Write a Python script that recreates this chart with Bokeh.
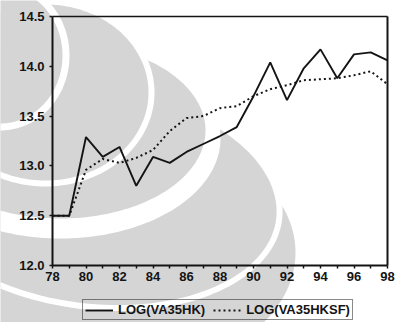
import numpy as np
from bokeh.plotting import figure
from bokeh.models import (Range1d, FixedTicker, PrintfTickFormatter, Legend,
                          LegendItem, LinearAxis, PolyAnnotation)
from bokeh.embed import file_html
from bokeh.resources import INLINE

# Annual series, 1978-1998 (two-digit years on the axis)
years = list(range(78, 99))
va35hk = [12.50, 12.50, 13.29, 13.09, 13.19, 12.80, 13.09, 13.03, 13.14, 13.22,
          13.30, 13.39, 13.70, 14.04, 13.66, 13.98, 14.17, 13.88, 14.12, 14.14, 14.06]
va35hksf = [12.50, 12.50, 12.96, 13.07, 13.03, 13.08, 13.16, 13.35, 13.48, 13.50,
            13.58, 13.60, 13.70, 13.77, 13.81, 13.86, 13.87, 13.88, 13.91, 13.95, 13.82]
series_labels = ["LOG(VA35HK)", "LOG(VA35HKSF)"]
y_ticks = [12.0, 12.5, 13.0, 13.5, 14.0, 14.5]
x_ticks = list(range(78, 99, 2))
x_minor = list(range(79, 98, 2))
X0, X1 = 78, 98
Y0, Y1 = 12.0, 14.5

FONT = "Liberation Sans"
INK = "#141414"
SHADE = "#d5d5d5"
W, H = 396, 322

# The plotting frame fills the page; the chart box sits inside it at these margins.
LEFT, RIGHT, TOP, BOTTOM = 52, 9, 16, 57
px_x = (W - LEFT - RIGHT) / (X1 - X0)
px_y = (H - TOP - BOTTOM) / (Y1 - Y0)
x_range = Range1d(X0 - LEFT / px_x, X1 + RIGHT / px_x)
y_range = Range1d(Y0 - BOTTOM / px_y, Y1 + TOP / px_y)

p = figure(width=W, height=H, x_range=x_range, y_range=y_range,
           output_backend="svg", toolbar_location=None,
           min_border_left=0, min_border_right=0, min_border_top=0, min_border_bottom=0)
p.xgrid.visible = False
p.ygrid.visible = False
p.outline_line_color = None
p.background_fill_color = "white"
p.border_fill_color = "white"


def blob(cx, cy, a, b, n=2.0, tilt=0.0, k=180):
    """Closed (super)ellipse outline in page pixels."""
    t = np.linspace(0, 2 * np.pi, k, endpoint=False)
    c, s = np.cos(t), np.sin(t)
    x = a * np.sign(c) * np.abs(c) ** (2.0 / n)
    y = b * np.sign(s) * np.abs(s) ** (2.0 / n)
    th = np.deg2rad(tilt)
    X = cx + x * np.cos(th) - y * np.sin(th)
    Y = cy + x * np.sin(th) + y * np.cos(th)
    return X.tolist(), Y.tolist()


# Background emblem: alternating grey / white layers painted largest first
layers = [
    ((110, 252, 185, 125, 2.0, 0), SHADE),
    ((92, 196, 191, 113, 2.0, 7), "white"),
    ((92, 196, 185, 107, 2.0, 7), SHADE),
    ((60, 138, 160, 100, 2.0, 0), "white"),
    ((60, 130, 145, 88, 2.0, 0), SHADE),
    ((45, 92, 109, 94, 2.0, 0), "white"),
    ((45, 92, 103, 88, 2.0, 0), SHADE),
    ((0, 55, 69, 75, 2.0, 0), "white"),
    ((0, 55, 62, 68, 2.0, 0), SHADE),
]
for params, col in layers:
    xs, ys = blob(*params)
    p.add_layout(PolyAnnotation(xs=xs, ys=ys, xs_units="canvas", ys_units="canvas",
                                fill_color=col, fill_alpha=1.0, line_color=None,
                                level="underlay"))

r1 = p.line(years, va35hk, line_color=INK, line_width=1.9)
r2 = p.line(years, va35hksf, line_color=INK, line_width=2.0, line_dash="2 3")

# Axes pinned to the chart box edges
xax = p.xaxis[0]
yax = p.yaxis[0]
xax.fixed_location = Y0
xax.bounds = (X0, X1)
yax.fixed_location = X0
yax.bounds = (Y0, Y1)
for ax in (xax, yax):
    ax.axis_line_color = INK
    ax.axis_line_width = 2
    ax.major_tick_line_color = INK
    ax.minor_tick_line_color = INK
    ax.major_tick_line_width = 1.5
    ax.minor_tick_line_width = 1.5
    ax.major_tick_in = 0
    ax.minor_tick_in = 0
    ax.major_tick_out = 3
    ax.major_label_text_font = FONT
    ax.major_label_text_font_style = "bold"
    ax.major_label_text_color = INK
    ax.major_label_text_font_size = "13px"

xax.ticker = FixedTicker(ticks=x_ticks, minor_ticks=x_minor)
xax.minor_tick_out = 3
xax.formatter = PrintfTickFormatter(format="%d")
xax.major_label_standoff = 3

yax.ticker = FixedTicker(ticks=y_ticks, minor_ticks=[])
yax.minor_tick_out = 0
yax.formatter = PrintfTickFormatter(format="%.1f")
yax.major_label_standoff = 5

# Top and right edges of the chart box
top_edge = LinearAxis(fixed_location=Y1, bounds=(X0, X1),
                      ticker=FixedTicker(ticks=[], minor_ticks=[]),
                      axis_line_color=INK, axis_line_width=1.6,
                      major_tick_line_color=None, minor_tick_line_color=None)
right_edge = LinearAxis(fixed_location=X1, bounds=(Y0, Y1),
                        ticker=FixedTicker(ticks=[], minor_ticks=[]),
                        axis_line_color=INK, axis_line_width=2,
                        major_tick_line_color=None, minor_tick_line_color=None)
p.add_layout(top_edge, "above")
p.add_layout(right_edge, "right")

legend = Legend(items=[LegendItem(label=series_labels[0], renderers=[r1]),
                       LegendItem(label=series_labels[1], renderers=[r2])],
                orientation="horizontal", location=(82, 2))
legend.border_line_color = INK
legend.border_line_width = 1.5
legend.background_fill_alpha = 0
legend.label_text_font = FONT
legend.label_text_font_style = "bold"
legend.label_text_font_size = "13px"
legend.label_text_color = INK
legend.glyph_width = 28
legend.glyph_height = 14
legend.label_height = 14
legend.label_standoff = 5
legend.spacing = 8
legend.padding = 2
legend.margin = 0
p.add_layout(legend, "center")

open("out.html", "w").write(file_html(p, INLINE))
